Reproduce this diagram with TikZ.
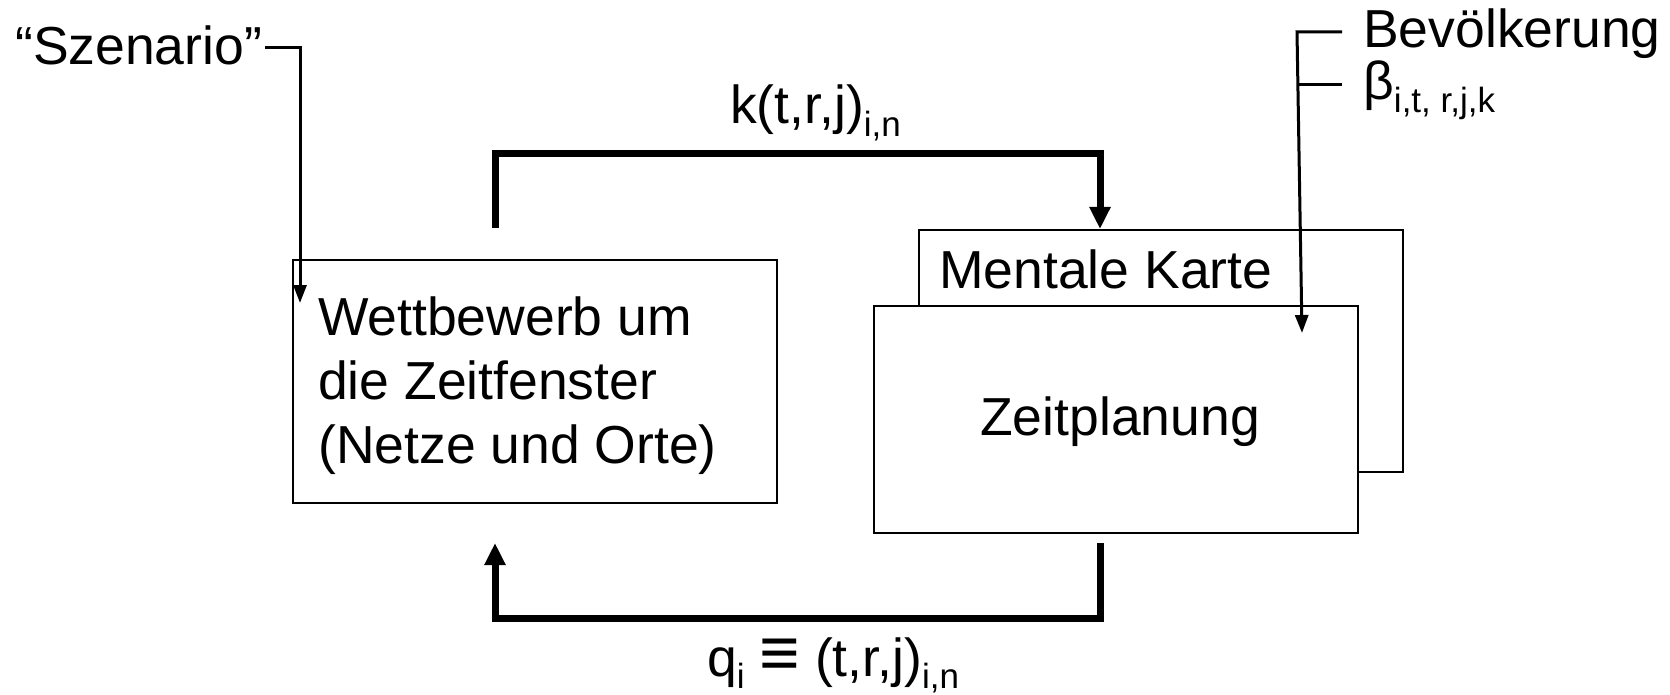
\documentclass[tikz,border=0pt]{standalone}
\usepackage{fontspec}
\setmainfont{Liberation Sans}
\usetikzlibrary{arrows.meta,calc}
\newcommand\lowsub[1]{\raisebox{-0.24em}{\fontsize{35}{35}\selectfont #1}}
\begin{document}
\begin{tikzpicture}[x=1pt,y=-1pt,
  every node/.style={inner sep=0pt, font=\fontsize{53.5}{64}\selectfont},
  box/.style={draw, line width=2pt, fill=white, anchor=north west, minimum width=484pt, minimum height=243pt},
  thickarrow/.style={line width=7pt, -{Triangle[length=22pt,width=20pt]}},
  thinarrow/.style={line width=3pt, -{Triangle[length=18pt,width=13pt]}}]
\useasboundingbox (0,0) rectangle (1670,695);

% boxes
\node[box] (comp) at (292,259) {};
\node[box, minimum height=242pt] (map) at (918,229) {};
\node[box, minimum height=227pt] (plan) at (873,305) {};

% box texts
\node[anchor=base west] (c1) at (318,335) {Wettbewerb um};
\node[anchor=base west] (c2) at (318,399) {die Zeitfenster};
\node[anchor=base west] (c3) at (318,463) {(Netze und Orte)};
\node[anchor=base west] (maptext) at (939,288) {Mentale Karte};
\node[anchor=base] (plantext) at (1120,435) {Zeitplanung};

% outside labels
\node[anchor=base west] (szen) at (15,65) {“Szenario”};
\node[anchor=base west] (bev) at (1363,48) {Bevölkerung};
\node[anchor=base west] (beta) at (1363,100) {β\lowsub{i,t, r,j,k}};
\node[anchor=base west] (klab) at (730,124) {k(t,r,j)\lowsub{i,n}};
\node[anchor=base west] (qlab) at (707,676) {q\lowsub{i} \scalebox{1.3}{≡} (t,r,j)\lowsub{i,n}};

% coordinates for connector ends
\coordinate (szentip) at ($(comp.north west)+(8,44)$);
\coordinate (poptip) at ($(plan.north east)+(-57,28)$);
\coordinate (kout) at ($(comp.north west)+(203,-31)$);
\coordinate (kin) at ($(map.north west)+(182,0)$);
\coordinate (qout) at ($(plan.south west)+(227,9)$);
\coordinate (qin) at ($(comp.south west)+(203,39)$);

% thin connectors
\draw[thinarrow] ($(szen.base east)+(3,-17)$) -| (szentip);
\draw[thinarrow] ($(bev.base west)+(-21,-16)$) -- ++(-45,0) -- (poptip);
\draw[line width=3pt] ($(beta.base west)+(-21,-15)$) -- ++(-44,0);

% thick loop arrows
\draw[thickarrow] (kout) -- ++(0,-74) -| (kin);
\draw[thickarrow] (qout) -- ++(0,75) -| (qin);
\end{tikzpicture}
\end{document}
